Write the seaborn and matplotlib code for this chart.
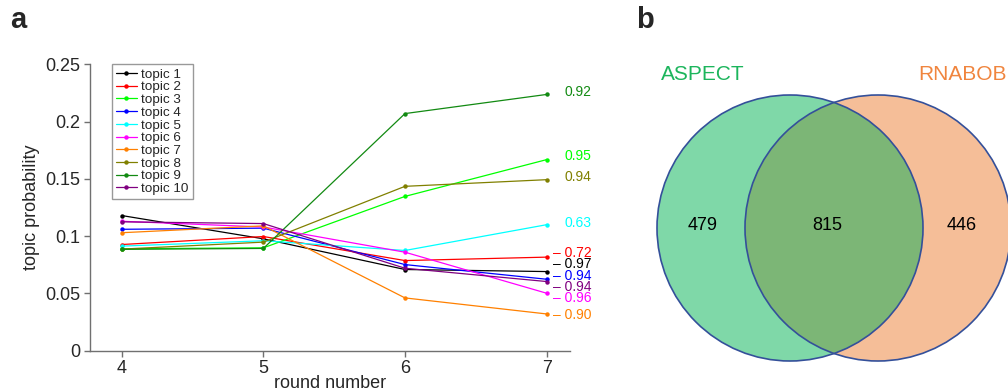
import matplotlib
matplotlib.use("Agg")
import matplotlib.pyplot as plt
import seaborn as sns
import pandas as pd
from matplotlib.patches import Circle
from matplotlib.lines import Line2D

# ---------------- data ----------------
rounds = [4, 5, 6, 7]
topics = [f"topic {i}" for i in range(1, 11)]
topic1 = [0.118, 0.0977, 0.0709, 0.0691]
topic2 = [0.0927, 0.0997, 0.0787, 0.0817]
topic3 = [0.0890, 0.0898, 0.1347, 0.1668]
topic4 = [0.1060, 0.1070, 0.0752, 0.0624]
topic5 = [0.0913, 0.0960, 0.0875, 0.1100]
topic6 = [0.1130, 0.1080, 0.0860, 0.0502]
topic7 = [0.1030, 0.1090, 0.0461, 0.0321]
topic8 = [0.0887, 0.0948, 0.1435, 0.1493]
topic9 = [0.0885, 0.0893, 0.2070, 0.2237]
topic10 = [0.1125, 0.1110, 0.0720, 0.0604]
series = [topic1, topic2, topic3, topic4, topic5, topic6, topic7, topic8, topic9, topic10]
end_labels = ["0.97", "0.72", "0.95", "0.94", "0.63", "0.96", "0.90", "0.94", "0.92", "0.94"]
end_dash = [True, True, False, True, False, True, True, False, False, True]
label_y = [0.0759, 0.0855, 0.1697, 0.0656, 0.1117, 0.0461, 0.0315, 0.1516, 0.226, 0.056]
yticks = [0, 0.05, 0.1, 0.15, 0.2, 0.25]
ytick_labels = ["0", "0.05", "0.1", "0.15", "0.2", "0.25"]

venn_sets = ["ASPECT", "RNABOB"]
venn_counts = [479, 815, 446]  # only A, both, only B

colors = ["#000000", "#ff0000", "#00ff00", "#0000ff", "#00ffff",
          "#ff00ff", "#ff8000", "#808000", "#128a12", "#800080"]

# ---------------- figure ----------------
sns.set_theme(style="ticks")
plt.rcParams["font.family"] = ["Liberation Sans", "DejaVu Sans"]

fig = plt.figure(figsize=(10.08, 3.91), dpi=100)
ax = fig.add_axes([0.0893, 0.103, 0.476, 0.7325])

df = pd.DataFrame({
    "round": rounds * len(topics),
    "prob": [v for s in series for v in s],
    "topic": [t for t in topics for _ in rounds],
})
pal = dict(zip(topics, colors))
sns.lineplot(data=df, x="round", y="prob", hue="topic", hue_order=topics,
             palette=pal, marker="o", markersize=3.2, markeredgewidth=0,
             linewidth=0.9, legend=False, ax=ax)

for lab, dash, ly, c in zip(end_labels, end_dash, label_y, colors):
    if dash:
        ax.text(7.044, ly, "\u2013 " + lab, color=c, fontsize=10, va="center", ha="left")
    else:
        ax.text(7.129, ly, lab, color=c, fontsize=10, va="center", ha="left")

ax.set_xlim(3.776, 7.164)
ax.set_ylim(0, 0.25)
ax.set_xticks(rounds)
ax.set_xticklabels([str(r) for r in rounds], fontsize=13)
ax.set_yticks(yticks)
ax.set_yticklabels(ytick_labels, fontsize=13)
ax.set_xlabel("round number", fontsize=13, labelpad=-2)
ax.set_ylabel("topic probability", fontsize=13, labelpad=4)
sns.despine(ax=ax)
for sp in ["left", "bottom"]:
    ax.spines[sp].set_color("#707070")
    ax.spines[sp].set_linewidth(1.0)
ax.tick_params(axis="both", direction="out", length=4, width=1, color="#707070", pad=3)

handles = [Line2D([0], [0], color=c, lw=0.9, marker="o", markersize=3.2, markeredgewidth=0)
           for c in colors]
leg = ax.legend(handles, topics, loc="upper left", bbox_to_anchor=(0.045, 1.0),
                borderaxespad=0, fontsize=9.7, frameon=True, fancybox=False,
                handlelength=1.6, handletextpad=0.3, labelspacing=0.02,
                borderpad=0.3)
leg.get_frame().set_edgecolor("#808080")
leg.get_frame().set_linewidth(1.0)

fig.text(10 / 1008, 1 - 20 / 391, "a", fontsize=21, fontweight="bold", va="center", ha="left")
fig.text(636 / 1008, 1 - 20 / 391, "b", fontsize=21, fontweight="bold", va="center", ha="left")

# ---------------- venn ----------------
vax = fig.add_axes([640 / 1008, 0, 368 / 1008, 1])
vax.set_xlim(640, 1008)
vax.set_ylim(391, 0)
vax.axis("off")
r = 133
cl = (790, 228)
cr = (878, 228)
edge = "#34509a"
c1 = Circle(cl, r, facecolor="#7fd8a8", edgecolor="none")
c2 = Circle(cr, r, facecolor="#f5be98", edgecolor="none")
vax.add_patch(c1)
vax.add_patch(c2)
ov = Circle(cl, r, facecolor="#7cb676", edgecolor="none")
vax.add_patch(ov)
ov.set_clip_path(c2)
vax.add_patch(Circle(cl, r, facecolor="none", edgecolor=edge, lw=1.2, clip_on=False))
vax.add_patch(Circle(cr, r, facecolor="none", edgecolor=edge, lw=1.2, clip_on=False))

vax.text(703, 225, str(venn_counts[0]), fontsize=13, ha="center", va="center", color="black")
vax.text(827, 225, str(venn_counts[1]), fontsize=13, ha="center", va="center", color="black")
vax.text(962, 225, str(venn_counts[2]), fontsize=13, ha="center", va="center", color="black")
vax.text(661, 74, venn_sets[0], fontsize=15, ha="left", va="center", color="#1cb55c")
vax.text(918, 74, venn_sets[1], fontsize=15, ha="left", va="center", color="#f0853e", clip_on=False)

fig.savefig("out.png", dpi=100)
